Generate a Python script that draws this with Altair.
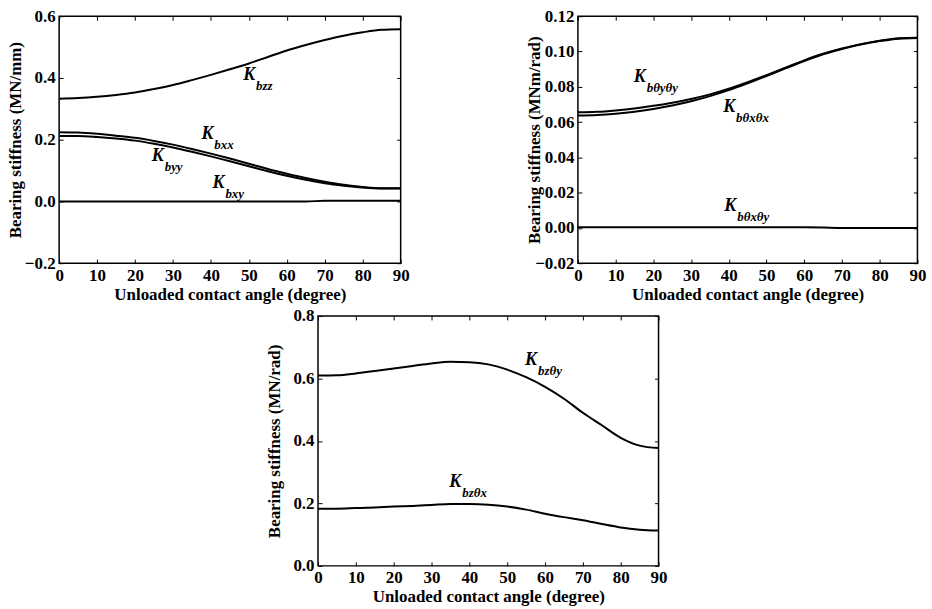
import altair as alt
import pandas as pd

FONT = "Liberation Serif"

angles = [0, 5, 10, 15, 20, 25, 30, 35, 40, 45, 50, 55, 60, 65, 70, 75, 80, 85, 90]
x_ticks = [0, 10, 20, 30, 40, 50, 60, 70, 80, 90]

# Panel 1 (MN/mm)
k_bzz = [0.333, 0.335, 0.339, 0.345, 0.353, 0.364, 0.377, 0.393, 0.410, 0.428, 0.447, 0.468, 0.489, 0.507, 0.523, 0.537, 0.548, 0.556, 0.558]
k_bxx = [0.224, 0.223, 0.219, 0.213, 0.206, 0.196, 0.184, 0.170, 0.155, 0.139, 0.122, 0.105, 0.090, 0.076, 0.064, 0.054, 0.047, 0.043, 0.043]
k_byy = [0.212, 0.212, 0.209, 0.204, 0.197, 0.187, 0.175, 0.161, 0.146, 0.130, 0.114, 0.098, 0.083, 0.070, 0.059, 0.051, 0.045, 0.042, 0.042]
k_bxy = [0.0, 0.0, 0.0, 0.0, 0.0, 0.0, 0.0, 0.0, 0.0, 0.0, 0.0, 0.0, 0.0, 0.0, 0.002, 0.002, 0.002, 0.002, 0.002]
p1_yticks = [-0.2, 0.0, 0.2, 0.4, 0.6]
p1_labels = ["bzz", "bxx", "byy", "bxy"]
p1_label_x = [48.5, 37.5, 24.4, 40.4]
p1_label_y = [0.394, 0.203, 0.132, 0.042]

# Panel 2 (MNm/rad)
k_btyty = [0.0655, 0.0658, 0.0666, 0.0677, 0.0692, 0.0710, 0.0731, 0.0757, 0.0789, 0.0826, 0.0866, 0.0908, 0.0950, 0.0987, 0.1017, 0.1042, 0.1061, 0.1075, 0.1078]
k_btxtx = [0.0637, 0.0640, 0.0647, 0.0658, 0.0674, 0.0694, 0.0718, 0.0747, 0.0781, 0.0820, 0.0861, 0.0904, 0.0946, 0.0984, 0.1014, 0.1040, 0.1059, 0.1073, 0.1077]
k_btxty = [0.0003, 0.0003, 0.0003, 0.0003, 0.0003, 0.0003, 0.0003, 0.0003, 0.0003, 0.0003, 0.0003, 0.0003, 0.0003, 0.0002, 0.0, 0.0, 0.0, 0.0, 0.0]
p2_yticks = [-0.02, 0.0, 0.02, 0.04, 0.06, 0.08, 0.10, 0.12]
p2_labels = ["bθyθy", "bθxθx", "bθxθy"]
p2_label_x = [14.8, 38.5, 38.8]
p2_label_y = [0.0828, 0.0659, 0.0096]

# Panel 3 (MN/rad)
k_bzty = [0.609, 0.610, 0.616, 0.624, 0.632, 0.640, 0.648, 0.653, 0.652, 0.645, 0.628, 0.604, 0.573, 0.535, 0.490, 0.450, 0.410, 0.385, 0.377]
k_bztx = [0.183, 0.183, 0.185, 0.187, 0.190, 0.192, 0.195, 0.198, 0.198, 0.196, 0.190, 0.180, 0.167, 0.156, 0.146, 0.134, 0.123, 0.116, 0.113]
p3_yticks = [0.0, 0.2, 0.4, 0.6, 0.8]
p3_labels = ["bzθy", "bzθx"]
p3_label_x = [54.7, 34.7]
p3_label_y = [0.644, 0.252]


def long_df(series):
    rows = []
    for name, vals in series.items():
        for a, v in zip(angles, vals):
            rows.append({"angle": a, "value": v, "series": name})
    return pd.DataFrame(rows)


def panel(series, yticks, fmt, ytitle, labels, lx, ly, W, H):
    df = long_df(series)
    lab = pd.DataFrame({"x": lx, "y": ly, "main": ["K"] * len(labels), "sub": labels})
    xs = alt.Scale(domain=[0, 90], nice=False, zero=False)
    ys = alt.Scale(domain=[yticks[0], yticks[-1]], nice=False, zero=False)

    x_main = alt.X("angle:Q", scale=xs, axis=alt.Axis(
        values=x_ticks, title="Unloaded contact angle (degree)", labelFlush=False,
        labelOverlap=False, ticks=False, domain=False, grid=False,
        labelPadding=4, titlePadding=3))
    y_main = alt.Y("value:Q", scale=ys, axis=alt.Axis(
        values=yticks, format=fmt, title=ytitle, labelOverlap=False,
        ticks=False, domain=False, grid=False, labelPadding=4,
        titleX=-44, titleY=H / 2, titleBaseline="middle", titleAlign="center",
        titleAngle=270))

    lines = alt.Chart(df).mark_line(color="black", strokeWidth=2, interpolate="monotone").encode(
        x=x_main, y=y_main, detail="series:N")

    def tick_layer(xorient, yorient):
        return alt.Chart(df).mark_line(opacity=0).encode(
            x=alt.X("angle:Q", scale=xs, axis=alt.Axis(
                orient=xorient, offset=-H, values=x_ticks, labels=False, domain=False,
                grid=False, title=None, ticks=True, tickSize=4, tickColor="black", tickWidth=1)),
            y=alt.Y("value:Q", scale=ys, axis=alt.Axis(
                orient=yorient, offset=-W, values=yticks, labels=False, domain=False,
                grid=False, title=None, ticks=True, tickSize=4, tickColor="black", tickWidth=1)),
            detail="series:N")

    t1 = tick_layer("top", "right")
    t2 = tick_layer("bottom", "left")

    k_text = alt.Chart(lab).mark_text(
        font=FONT, fontSize=18, fontStyle="italic", fontWeight="bold",
        align="left", baseline="alphabetic", color="black").encode(
        x=alt.X("x:Q", scale=xs, axis=None), y=alt.Y("y:Q", scale=ys, axis=None), text="main:N")
    s_text = alt.Chart(lab).mark_text(
        font=FONT, fontSize=13, fontStyle="italic", fontWeight="bold",
        align="left", baseline="alphabetic", color="black", dx=13, dy=10).encode(
        x=alt.X("x:Q", scale=xs, axis=None), y=alt.Y("y:Q", scale=ys, axis=None), text="sub:N")

    return alt.layer(lines, t1, t2, k_text, s_text).resolve_axis(
        x="independent", y="independent").properties(width=W, height=H)


p1 = panel({"Kbzz": k_bzz, "Kbxx": k_bxx, "Kbyy": k_byy, "Kbxy": k_bxy},
           p1_yticks, ".1f", "Bearing stiffness (MN/mm)", p1_labels, p1_label_x, p1_label_y, 343, 248)
p2 = panel({"Kbtyty": k_btyty, "Kbtxtx": k_btxtx, "Kbtxty": k_btxty},
           p2_yticks, ".2f", "Bearing stiffness (MNm/rad)", p2_labels, p2_label_x, p2_label_y, 341, 248)
p3 = panel({"Kbzty": k_bzty, "Kbztx": k_bztx},
           p3_yticks, ".1f", "Bearing stiffness (MN/rad)", p3_labels, p3_label_x, p3_label_y, 342, 251)

chart = alt.vconcat(
    alt.hconcat(p1, p2, spacing=114),
    p3, spacing=3, center=True
).properties(
    padding={"left": 5, "top": 5, "right": 5, "bottom": 0},
    background="white"
).configure_axis(
    labelFont=FONT, labelFontSize=17, labelFontWeight="bold", labelColor="black",
    titleFont=FONT, titleFontSize=17, titleFontWeight="bold", titleColor="black"
).configure_view(
    stroke="black", strokeWidth=1.5
)

chart.save("out.html", embed_options={"renderer": "svg", "actions": False})
